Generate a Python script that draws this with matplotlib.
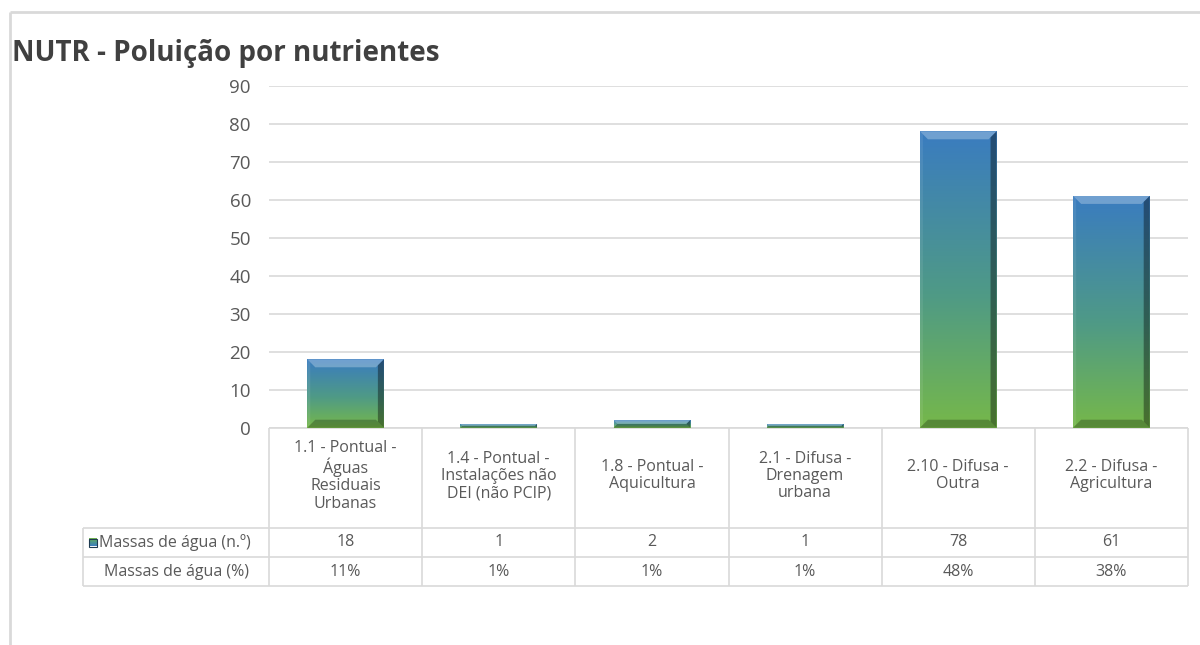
import numpy as np
import matplotlib
matplotlib.use("Agg")
import matplotlib.pyplot as plt
from matplotlib.colors import LinearSegmentedColormap
from matplotlib.patches import Polygon, Rectangle

# ---------------- data ----------------
categories = [
    "1.1 - Pontual -\nÁguas\nResiduais\nUrbanas",
    "1.4 - Pontual -\nInstalações não\nDEI (não PCIP)",
    "1.8 - Pontual -\nAquicultura",
    "2.1 - Difusa -\nDrenagem\nurbana",
    "2.10 - Difusa -\nOutra",
    "2.2 - Difusa -\nAgricultura",
]
counts = [18, 1, 2, 1, 78, 61]
percents = ["11%", "1%", "1%", "1%", "48%", "38%"]
row_labels = ["Massas de água (n.º)", "Massas de água (%)"]
yticks = [0, 10, 20, 30, 40, 50, 60, 70, 80, 90]
title = "NUTR - Poluição por nutrientes"

# ---------------- style ----------------
plt.rcParams["font.family"] = ["Open Sans", "DejaVu Sans"]
TXT = "#595959"
GRID = "#d9d9d9"
W, H = 1200, 645
DPI = 100
FS = 11.5

cmap = LinearSegmentedColormap.from_list(
    "bar", [(0.0, "#76b84a"), (0.45, "#4f9a86"), (1.0, "#3a7cc0")])

fig = plt.figure(figsize=(W / DPI, H / DPI), dpi=DPI)
fig.patch.set_facecolor("white")

# overlay axes in pixel coordinates (border, title, table)
tax = fig.add_axes([0, 0, 1, 1], zorder=0)
tax.set_xlim(0, W)
tax.set_ylim(H, 0)
tax.axis("off")
tax.patch.set_visible(False)

ax_left, ax_right, ax_top, ax_bottom = 269, 1188, 85.7, 427.7
ax = fig.add_axes([ax_left / W, 1 - ax_bottom / H,
                   (ax_right - ax_left) / W, (ax_bottom - ax_top) / H], zorder=1)
ax.patch.set_visible(False)
n = len(categories)
x = np.arange(n)
ax.set_xlim(-0.5, n - 0.5)
ax.set_ylim(yticks[0], yticks[-1])
ax.set_yticks(yticks)
ax.set_yticklabels([str(t) for t in yticks], fontsize=13.5, color=TXT)
ax.set_xticks([])
ax.tick_params(axis="y", length=0, pad=13)
for s in ax.spines.values():
    s.set_visible(False)
ax.grid(axis="y", color=GRID, linewidth=1.2, zorder=0)
ax.set_axisbelow(True)

bars = ax.bar(x, counts, width=0.5, facecolor="none", edgecolor="none", zorder=2)

fig.canvas.draw()
inv = ax.transData.inverted()
grad = np.linspace(0, 1, 256).reshape(-1, 1)
for b in bars:
    x0, w, h = b.get_x(), b.get_width(), b.get_height()
    im = ax.imshow(grad, extent=[x0, x0 + w, 0, h], origin="lower",
                   cmap=cmap, aspect="auto", zorder=2, interpolation="bilinear")
    im.set_clip_path(b)
    (L, B) = ax.transData.transform((x0, 0))
    (R, T) = ax.transData.transform((x0 + w, h))
    bv = min(8.0, (T - B) / 2.0, (R - L) / 2.0)
    bvr = min(6.0, (T - B) / 2.0)
    polys = [
        ([(L, T), (R, T), (R - bv, T - bv), (L + bv, T - bv)], "white", 0.28),
        ([(L, B), (L, T), (L + 3, T - 3), (L + 3, B + 3)], "white", 0.08),
        ([(R, B), (R, T), (R - bvr, T - bvr), (R - bvr, B + bvr)], "black", 0.38),
        ([(L, B), (R, B), (R - bv, B + bv), (L + bv, B + bv)], "black", 0.25),
    ]
    for pts, col, a in polys:
        ax.add_patch(Polygon(inv.transform(pts), closed=True, facecolor=col,
                             alpha=a, edgecolor="none", zorder=3))
ax.set_xlim(-0.5, n - 0.5)
ax.set_ylim(yticks[0], yticks[-1])

# ---------------- border & title ----------------
tax.plot([10, 10], [12, H], color=GRID, lw=2, solid_capstyle="butt")
tax.plot([10, W], [12, 12], color=GRID, lw=2, solid_capstyle="butt")
tax.text(12, 61, title, fontsize=20, fontweight="bold", color="#404040",
         va="baseline", ha="left")

# ---------------- data table ----------------
col_edges = [ax.transData.transform((i - 0.5, 0))[0] for i in range(n + 1)]
tab_left = 83
y_head_top, y_head_bot, y_r1, y_r2 = ax_bottom, 528, 557, 586
lc = dict(color=GRID, lw=1.2, solid_capstyle="butt")
tax.plot([col_edges[0], col_edges[-1]], [y_head_top, y_head_top], **lc)
for yy in (y_head_bot, y_r1, y_r2):
    tax.plot([tab_left, col_edges[-1]], [yy, yy], **lc)
for xe in col_edges:
    tax.plot([xe, xe], [y_head_top, y_r2], **lc)
tax.plot([tab_left, tab_left], [y_head_bot, y_r2], **lc)

for i, cat in enumerate(categories):
    cx = (col_edges[i] + col_edges[i + 1]) / 2
    tax.text(cx, (y_head_top + y_head_bot) / 2 - 2, cat, ha="center", va="center",
             fontsize=FS, color=TXT, linespacing=1.1)
    tax.text(cx, (y_head_bot + y_r1) / 2, str(counts[i]), ha="center", va="center",
             fontsize=FS, color=TXT)
    tax.text(cx, (y_r1 + y_r2) / 2, percents[i], ha="center", va="center",
             fontsize=FS, color=TXT)

lab_cx = (tab_left + col_edges[0]) / 2
tax.text(99, (y_head_bot + y_r1) / 2, row_labels[0], ha="left",
         va="center", fontsize=FS, color=TXT)
tax.text(lab_cx, (y_r1 + y_r2) / 2, row_labels[1], ha="center", va="center",
         fontsize=FS, color=TXT)
# legend key
ky = (y_head_bot + y_r1) / 2
tax.imshow(grad, extent=[89, 97, ky + 4, ky - 4],
           origin="upper", cmap=cmap, aspect="auto", zorder=3)
tax.add_patch(Rectangle((89, ky - 4), 8, 8,
                        fill=False, edgecolor="#1e3a50", lw=0.8, zorder=4))
tax.set_xlim(0, W)
tax.set_ylim(H, 0)

fig.savefig("out.png", dpi=DPI, facecolor="white")
